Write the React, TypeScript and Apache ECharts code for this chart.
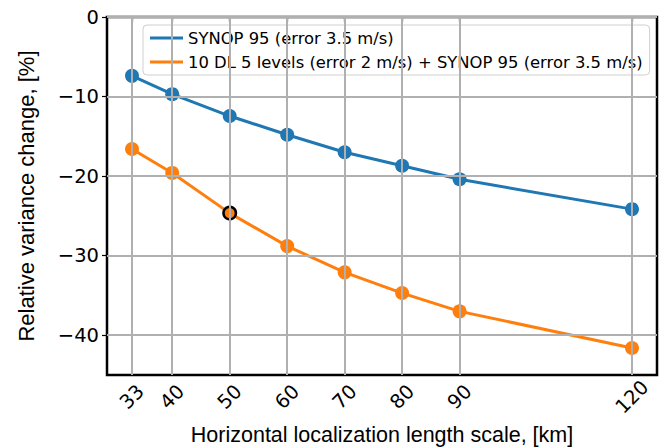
import React, { useEffect, useRef } from "react";
import * as echarts from "echarts";

const xValues = [33, 40, 50, 60, 70, 80, 90, 120];
const synopValues = [-7.4, -9.7, -12.45, -14.8, -17.0, -18.7, -20.4, -24.15];
const dlSynopValues = [-16.6, -19.6, -24.65, -28.8, -32.1, -34.7, -37.0, -41.6];
const yTicks = [-40, -30, -20, -10, 0];
const highlightX = 50;
const seriesNames = [
  "SYNOP 95 (error 3.5 m/s)",
  "10 DL 5 levels (error 2 m/s) + SYNOP 95 (error 3.5 m/s)",
];
const xTitle = "Horizontal localization length scale, [km]";
const yTitle = "Relative variance change, [%]";

const fmtY = (v: number) => (v < 0 ? "\u2212" + Math.abs(v) : String(v));

export default function App() {
  const ref = useRef<HTMLDivElement>(null);
  useEffect(() => {
    if (!ref.current) return;
    const chart = echarts.init(ref.current, undefined, { renderer: "svg" });
    const tickFont = { fontFamily: "DejaVu Sans", fontSize: 19.5, color: "#000" };
    chart.setOption({
      animation: false,
      backgroundColor: "#fff",
      grid: {
        left: 107,
        top: 17,
        right: 2,
        bottom: 72,
        show: true,
        containLabel: false,
        outerBoundsMode: "none",
        borderColor: "#000",
        borderWidth: 2.5,
        backgroundColor: "transparent",
      },
      legend: {
        orient: "vertical",
        left: 143,
        top: 25,
        padding: [5, 7, 5, 7],
        itemGap: 8,
        itemWidth: 33,
        itemHeight: 3,
        itemTextGap: 13,
        icon: "rect",
        backgroundColor: "rgba(255,255,255,0.8)",
        borderColor: "#d0d0d0",
        borderWidth: 1,
        borderRadius: 4,
        textStyle: { fontFamily: "DejaVu Sans", fontSize: 16.4, color: "#000", lineHeight: 16 },
        data: seriesNames,
      },
      xAxis: {
        type: "value",
        min: 28.65,
        max: 124.35,
        axisLine: { show: false },
        splitLine: { show: false },
        axisTick: {
          show: true,
          customValues: xValues,
          length: 5,
          lineStyle: { color: "#000", width: 1.2 },
        },
        axisLabel: {
          customValues: xValues,
          rotate: 45,
          align: "center",
          verticalAlign: "middle",
          margin: 22,
          ...tickFont,
        },
        name: xTitle,
        nameLocation: "middle",
        nameGap: 48,
        nameTextStyle: { fontFamily: "Liberation Sans", fontSize: 21.5, color: "#000" },
      },
      yAxis: {
        type: "value",
        min: -45,
        max: 0,
        axisLine: { show: false },
        splitLine: { show: false },
        axisTick: {
          show: true,
          customValues: yTicks,
          length: 5,
          lineStyle: { color: "#000", width: 1.2 },
        },
        axisLabel: {
          customValues: yTicks,
          margin: 8,
          formatter: (v: number) => fmtY(v),
          ...tickFont,
        },
        name: yTitle,
        nameLocation: "middle",
        nameGap: 70,
        nameTextStyle: { fontFamily: "Liberation Sans", fontSize: 22, color: "#000" },
      },
      series: [
        {
          name: "grid",
          type: "line",
          data: [],
          silent: true,
          z: 1,
          markLine: {
            silent: true,
            symbol: "none",
            label: { show: false },
            lineStyle: { color: "#b0b0b0", width: 2, type: "solid" },
            data: [
              ...xValues.map((v) => ({ xAxis: v })),
              ...yTicks.map((v) => ({ yAxis: v })),
            ],
          },
        },
        {
          name: seriesNames[0],
          type: "line",
          z: 3,
          data: xValues.map((x, i) => [x, synopValues[i]]),
          symbol: "circle",
          symbolSize: 14,
          lineStyle: { color: "#1f77b4", width: 3 },
          itemStyle: { color: "#1f77b4" },
          color: "#1f77b4",
        },
        {
          name: seriesNames[1],
          type: "line",
          z: 3,
          data: xValues.map((x, i) =>
            x === highlightX
              ? {
                  value: [x, dlSynopValues[i]],
                  symbolSize: 12.5,
                  itemStyle: { color: "#ff7f0e", borderColor: "#000", borderWidth: 2.5 },
                }
              : [x, dlSynopValues[i]]
          ),
          symbol: "circle",
          symbolSize: 14,
          lineStyle: { color: "#ff7f0e", width: 3 },
          itemStyle: { color: "#ff7f0e" },
          color: "#ff7f0e",
        },
      ],
    });
    return () => chart.dispose();
  }, []);
  return <div ref={ref} style={{ width: 659, height: 447, position: "absolute", left: 0, top: 0 }} />;
}
